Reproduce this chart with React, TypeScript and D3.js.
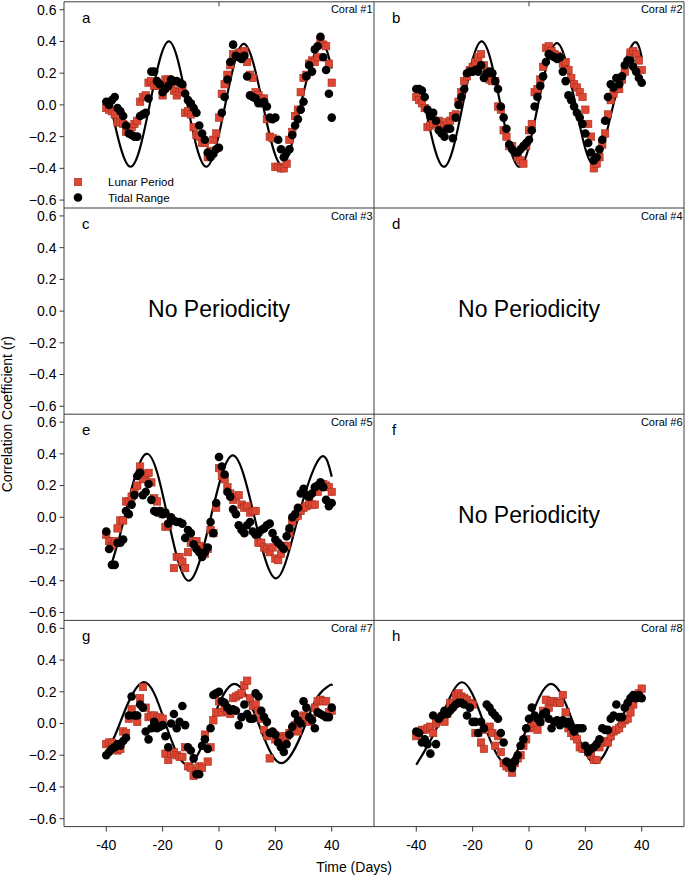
import React from 'react';
import * as d3 from 'd3';

const LAGS = d3.range(-40, 41);
const X_TICKS = [-40, -20, 0, 20, 40];
const Y_TICKS = [-0.6, -0.4, -0.2, 0, 0.2, 0.4, 0.6];

const lunarA = [
  -0.02, -0.03, -0.04, -0.06, -0.11, -0.11, -0.12, -0.17, -0.15, -0.14,
  -0.12, -0.10, 0.02, 0.05, 0.06, 0.14, 0.15, 0.12, 0.12, 0.13,
  0.06, 0.16, 0.16, 0.14, 0.09, 0.06, 0.08, 0.10, -0.05, -0.04,
  -0.06, -0.14, -0.19, -0.20, -0.24, -0.24, -0.33, -0.29, -0.22, -0.18,
  -0.08, 0.07, 0.13, 0.19, 0.25, 0.32, 0.31, 0.33, 0.33, 0.34,
  0.27, 0.19, 0.17, 0.08, 0.06, 0.04, 0.04, -0.09, -0.20, -0.21,
  -0.39, -0.39, -0.40, -0.40, -0.37, -0.22, -0.17, -0.07, -0.03, 0.08,
  0.17, 0.19, 0.26, 0.28, 0.27, 0.30, 0.40, 0.38, 0.37, 0.26,
  0.14,
];
const tidalA = [
  0.02, 0.0, 0.03, 0.05, -0.02, -0.04, -0.07, -0.13, -0.18, -0.19,
  -0.20, -0.20, -0.07, -0.06, -0.05, 0.04, 0.21, 0.21, 0.15, 0.13,
  0.08, 0.10, 0.12, 0.16, 0.15, 0.15, 0.14, 0.13, 0.07, 0.03,
  0.01, -0.02, -0.05, -0.13, -0.18, -0.22, -0.30, -0.33, -0.31, -0.28,
  -0.27, -0.05, 0.05, 0.16, 0.27, 0.38, 0.31, 0.30, 0.29, 0.31,
  0.18, 0.06, 0.05, 0.04, 0.01, 0.01, 0.02, -0.01, -0.08, -0.09,
  -0.08, -0.22, -0.28, -0.33, -0.30, -0.28, -0.19, -0.13, -0.09, -0.03,
  0.02, 0.18, 0.25, 0.21, 0.35, 0.37, 0.43, 0.30, 0.22, 0.07,
  -0.08,
];
const fitA: [number, number][] = [
  [-38.5, 0.0], [-31.4, -0.39], [-24.6, 0.0], [-17.8, 0.4], [-11.2, 0.0], [-4.5, -0.39],
  [2.2, 0.0], [8.8, 0.385], [15.6, 0.0], [22.4, -0.38], [29.0, 0.0], [35.6, 0.38], [40, 0.23],
];

const lunarB = [
  0.05, 0.03, 0.01, -0.02, -0.14, -0.13, -0.12, -0.11, -0.10, -0.13,
  -0.14, -0.11, -0.10, -0.07, -0.06, 0.02, 0.08, 0.15, 0.18, 0.22,
  0.24, 0.27, 0.30, 0.32, 0.25, 0.21, 0.16, 0.15, 0.15, -0.01,
  -0.03, -0.16, -0.20, -0.26, -0.26, -0.30, -0.33, -0.35, -0.37, -0.26,
  -0.16, -0.12, 0.08, 0.10, 0.16, 0.24, 0.36, 0.37, 0.34, 0.32,
  0.31, 0.30, 0.26, 0.27, 0.22, 0.17, 0.13, 0.11, 0.08, 0.05,
  -0.03, -0.12, -0.20, -0.40, -0.37, -0.33, -0.25, -0.18, -0.06, 0.03,
  0.07, 0.10, 0.10, 0.16, 0.21, 0.27, 0.33, 0.34, 0.32, 0.28,
  0.22,
];
const tidalB = [
  0.10, 0.10, 0.09, 0.05, -0.03, -0.07, -0.05, -0.10, -0.16, -0.18,
  -0.20, -0.15, -0.15, -0.21, -0.08, 0.0, 0.05, 0.10, 0.20, 0.21,
  0.21, 0.22, 0.21, 0.25, 0.17, 0.20, 0.21, 0.20, 0.15, 0.10,
  -0.01, -0.08, -0.15, -0.25, -0.28, -0.30, -0.30, -0.28, -0.26, -0.24,
  -0.22, -0.16, -0.01, 0.05, 0.12, 0.18, 0.27, 0.32, 0.31, 0.30,
  0.29, 0.30, 0.21, 0.15, 0.06, 0.03, -0.01, -0.05, -0.08, -0.12,
  -0.18, -0.24, -0.30, -0.35, -0.33, -0.28, -0.22, -0.10, 0.05, 0.13,
  0.11, 0.17, 0.13, 0.18, 0.25, 0.28, 0.28, 0.24, 0.21, 0.17,
  0.14,
];
const fitB: [number, number][] = [
  [-37.0, 0.0], [-30.2, -0.39], [-23.5, 0.0], [-16.8, 0.4], [-10.1, 0.0], [-3.4, -0.39],
  [3.2, 0.0], [9.9, 0.39], [16.5, 0.0], [23.1, -0.38], [29.9, 0.0], [36.7, 0.38], [40, 0.3],
];

const lunarE = [
  -0.11, -0.15, -0.18, -0.15, -0.07, -0.02, -0.02, 0.10, 0.10, 0.13,
  0.16, 0.20, 0.32, 0.24, 0.27, 0.28, 0.22, 0.12, 0.10, 0.04,
  0.02, -0.06, -0.05, -0.02, -0.32, -0.25, -0.25, -0.28, -0.32, -0.22,
  -0.16, -0.15, -0.15, -0.18, -0.21, -0.23, -0.20, -0.08, -0.10, 0.06,
  0.31, 0.26, 0.24, 0.19, 0.15, 0.11, 0.13, 0.14, 0.08, 0.06,
  0.07, 0.03, 0.04, 0.04, -0.16, -0.16, -0.19, -0.20, -0.22, -0.19,
  -0.26, -0.27, -0.23, -0.18, -0.18, -0.10, -0.03, 0.0, 0.01, 0.04,
  0.06, 0.07, 0.09, 0.08, 0.08, 0.16, 0.20, 0.21, 0.20, 0.19,
  0.16,
];
const tidalE = [
  -0.09, -0.20, -0.30, -0.30, -0.16, -0.16, -0.14, 0.04, 0.02, 0.08,
  0.14, 0.26, 0.28, 0.14, 0.16, 0.21, 0.11, 0.04, 0.03, 0.04,
  0.02, 0.03, -0.04, 0.0, -0.02, -0.03, -0.03, -0.04, -0.13, -0.08,
  -0.10, -0.17, -0.20, -0.22, -0.25, -0.22, -0.19, -0.03, -0.10, 0.09,
  0.38, 0.32, 0.27, 0.16, 0.13, 0.05, 0.02, -0.05, -0.08, -0.10,
  -0.05, -0.03, -0.09, -0.11, -0.10, -0.08, -0.07, -0.05, -0.04, -0.10,
  -0.14, -0.16, -0.18, -0.20, -0.12, -0.07, 0.0, 0.02, 0.06, 0.15,
  0.18, 0.14, 0.13, 0.15, 0.19, 0.20, 0.22, 0.19, 0.11, 0.07,
  0.09,
];
const fitE: [number, number][] = [
  [-38.2, -0.3], [-33.5, 0.0], [-25.8, 0.4], [-18.2, 0.0], [-10.7, -0.4], [-2.9, 0.0],
  [4.9, 0.39], [12.6, 0.0], [20.3, -0.385], [28.1, 0.0], [35.9, 0.375], [40, 0.255],
];

const lunarG = [
  -0.13, -0.12, -0.12, -0.15, -0.17, -0.16, -0.05, -0.06, 0.03, 0.09,
  0.05, 0.01, 0.16, 0.23, 0.10, 0.04, 0.05, 0.05, 0.03, 0.04,
  0.03, -0.19, -0.23, -0.19, -0.18, -0.20, -0.21, -0.21, -0.15, -0.27,
  -0.28, -0.33, -0.30, -0.27, -0.28, -0.07, -0.24, -0.15, 0.02, 0.07,
  0.14, 0.07, 0.10, 0.08, 0.06, 0.16, 0.17, 0.18, 0.19, 0.24,
  0.27, 0.16, 0.11, 0.12, 0.08, 0.03, -0.04, -0.08, -0.22, -0.06,
  -0.10, -0.11, -0.08, -0.10, -0.08, -0.06, -0.04, -0.01, -0.05, 0.01,
  0.05, 0.04, 0.01, 0.03, 0.10, 0.14, 0.15, 0.14, 0.14, 0.07,
  0.08,
];
const tidalG = [
  -0.20, -0.18, -0.16, -0.15, -0.13, -0.14, -0.11, -0.09, 0.05, 0.17,
  0.05, 0.05, 0.12, 0.10, -0.05, -0.10, -0.03, 0.01, -0.03, -0.02,
  -0.01, -0.08, -0.15, 0.0, 0.06, -0.03, 0.01, 0.11, -0.01, -0.15,
  -0.17, -0.22, -0.32, -0.32, -0.14, -0.10, -0.16, -0.03, 0.18, 0.19,
  0.20, 0.14, 0.13, 0.10, 0.08, 0.09, 0.08, -0.01, 0.04, 0.12,
  0.06, 0.03, 0.03, 0.19, 0.17, 0.08, 0.04, 0.01, -0.06, -0.05,
  -0.07, -0.12, -0.15, -0.18, -0.13, -0.07, -0.02, 0.06, 0.02, 0.0,
  0.14, 0.10, 0.04, 0.02, -0.03, 0.07, 0.06, 0.05, 0.04, 0.04,
  0.10,
];
const fitG: [number, number][] = [
  [-37.6, -0.1], [-35.2, 0.0], [-27.0, 0.26], [-19.0, 0.0], [-11.1, -0.26], [-2.8, 0.0],
  [5.5, 0.25], [14.0, 0.0], [22.4, -0.25], [30.8, 0.0], [35.0, 0.17], [39.2, 0.24], [40, 0.238],
];

const lunarH = [
  -0.08, -0.06, -0.04, -0.04, -0.03, -0.02, -0.06, 0.0, 0.02, 0.04,
  0.01, 0.06, 0.13, 0.13, 0.18, 0.19, 0.17, 0.16, 0.15, 0.13,
  0.12, -0.06, -0.06, -0.12, -0.16, -0.04, -0.02, -0.06, -0.14, -0.08,
  -0.18, -0.25, -0.27, -0.28, -0.31, -0.25, -0.22, -0.20, -0.14, -0.10,
  -0.03, -0.02, 0.0, -0.04, 0.01, 0.08, 0.15, 0.10, 0.14, 0.14,
  0.13, 0.13, 0.18, 0.07, -0.03, -0.06, -0.08, -0.10, -0.15, -0.16,
  -0.16, -0.18, -0.20, -0.23, -0.23, -0.15, -0.12, -0.11, -0.12, -0.08,
  -0.05, -0.04, -0.03, 0.0, 0.02, 0.03, 0.07, 0.12, 0.16, 0.19,
  0.22,
];
const tidalH = [
  -0.05, -0.06, -0.12, -0.10, -0.13, -0.19, 0.05, -0.13, 0.03, 0.05,
  0.08, 0.06, 0.08, 0.10, 0.12, 0.13, 0.13, 0.12, 0.05, 0.10,
  0.01, 0.01, -0.06, 0.01, -0.03, 0.12, 0.10, 0.07, 0.05, 0.03,
  -0.06, -0.12, -0.24, -0.25, -0.28, -0.24, -0.20, -0.14, -0.10, -0.03,
  0.03, 0.10, 0.05, 0.03, 0.01, 0.06, 0.07, 0.03, -0.03, 0.01,
  0.02, -0.01, 0.02, 0.0, 0.01, -0.02, -0.05, -0.03, -0.03, -0.03,
  -0.14, -0.18, -0.16, -0.15, -0.13, -0.10, -0.03, -0.04, -0.04, 0.03,
  0.05, 0.12, 0.04, 0.04, 0.10, 0.13, 0.16, 0.18, 0.16, 0.18,
  0.16,
];
const fitH: [number, number][] = [
  [-40, -0.26], [-32.0, 0.0], [-23.9, 0.26], [-16.0, 0.0], [-8.1, -0.25], [-0.15, 0.0],
  [7.8, 0.25], [15.75, 0.0], [23.7, -0.25], [31.8, 0.0], [40, 0.24],
];

const LETTERS = ['a', 'b', 'c', 'd', 'e', 'f', 'g', 'h'];
const CORALS = ['Coral #1', 'Coral #2', 'Coral #3', 'Coral #4', 'Coral #5', 'Coral #6', 'Coral #7', 'Coral #8'];
const LUNAR = [lunarA, lunarB, null, null, lunarE, null, lunarG, lunarH];
const TIDAL = [tidalA, tidalB, null, null, tidalE, null, tidalG, tidalH];
const FITS = [fitA, fitB, null, null, fitE, null, fitG, fitH];
const NO_PERIOD_TEXT = 'No Periodicity';
const LEGEND = ['Lunar Period', 'Tidal Range'];

const W = 685;
const H = 877;
const LEFT = 64;
const COL_W = 310;
const TOP = 1.8;
const ROW_H = 206.2;
const FONT = "'Liberation Sans', Arial, Helvetica, sans-serif";
const RED = '#dc4632';
const RED_EDGE = '#a52d1d';
const FRAME = '#3c3c3c';
const SQ = 7.4;
const CR = 4.3;

export default function App() {
  const panels = LETTERS.map((letter, i) => {
    const col = i % 2;
    const row = Math.floor(i / 2);
    const x0 = LEFT + col * COL_W;
    const y0 = TOP + row * ROW_H;
    const x = d3.scaleLinear().domain([-55, 55]).range([x0, x0 + COL_W]);
    const y = d3.scaleLinear().domain([-0.65, 0.65]).range([y0 + ROW_H, y0]);
    const lunar = LUNAR[i];
    const tidal = TIDAL[i];
    const fit = FITS[i];
    const line = d3
      .line<[number, number]>()
      .x((d) => x(d[0]))
      .y((d) => y(d[1]))
      .curve(d3.curveNatural);
    return (
      <g key={letter}>
        {fit && <path d={line(fit) || ''} fill="none" stroke="#000" strokeWidth={2.2} />}
        {lunar &&
          lunar.map((v, k) => (
            <rect
              key={'l' + k}
              x={x(LAGS[k]) - SQ / 2}
              y={y(v) - SQ / 2}
              width={SQ}
              height={SQ}
              fill={RED}
              stroke={RED_EDGE}
              strokeWidth={0.6}
            />
          ))}
        {tidal &&
          tidal.map((v, k) => <circle key={'t' + k} cx={x(LAGS[k])} cy={y(v)} r={CR} fill="#000" />)}
        {!fit && (
          <text
            x={x(0)}
            y={y(0) + 6}
            textAnchor="middle"
            fontSize={23}
            fontFamily={FONT}
            fill="#000"
          >
            {NO_PERIOD_TEXT}
          </text>
        )}
        <text x={x0 + 18} y={y0 + 21} fontSize={15} fontFamily={FONT} fill="#000">
          {letter}
        </text>
        <text x={x0 + COL_W - 1.5} y={y0 + 11.5} textAnchor="end" fontSize={11} fontFamily={FONT} fill="#000">
          {CORALS[i]}
        </text>
        {row === 0 && <line x1={x(0)} x2={x(0)} y1={y0} y2={y0 + 4.5} stroke={FRAME} strokeWidth={1} />}
        {col === 0 &&
          Y_TICKS.map((t) => (
            <g key={'yt' + t}>
              <line x1={x0 - 4.5} x2={x0} y1={y(t)} y2={y(t)} stroke={FRAME} strokeWidth={1} />
              <text
                x={x0 - 7.5}
                y={y(t)}
                dy="0.35em"
                textAnchor="end"
                fontSize={14}
                fontFamily={FONT}
                fill="#000"
              >
                {t === 0 ? '0.0' : d3.format('.1f')(t)}
              </text>
            </g>
          ))}
        {row === 3 &&
          X_TICKS.map((t) => (
            <g key={'xt' + t}>
              <line x1={x(t)} x2={x(t)} y1={y0 + ROW_H} y2={y0 + ROW_H + 5} stroke={FRAME} strokeWidth={1} />
              <text x={x(t)} y={y0 + ROW_H + 23.5} textAnchor="middle" fontSize={14} fontFamily={FONT} fill="#000">
                {t}
              </text>
            </g>
          ))}
        {i === 0 && (
          <g>
            <rect x={78 - SQ / 2} y={182 - SQ / 2} width={SQ} height={SQ} fill={RED} stroke={RED_EDGE} strokeWidth={0.6} />
            <circle cx={78} cy={197.5} r={CR} fill="#000" />
            <text x={108} y={186} fontSize={11.5} fontFamily={FONT} fill="#000">
              {LEGEND[0]}
            </text>
            <text x={108} y={201.5} fontSize={11.5} fontFamily={FONT} fill="#000">
              {LEGEND[1]}
            </text>
          </g>
        )}
      </g>
    );
  });

  const rowYs = d3.range(0, 5).map((r) => TOP + r * ROW_H);
  const colXs = [LEFT, LEFT + COL_W, LEFT + 2 * COL_W];

  return (
    <svg
      width={W}
      height={H}
      style={{ position: 'absolute', left: 0, top: 0, background: '#fff' }}
      xmlns="http://www.w3.org/2000/svg"
    >
      <rect x={0} y={0} width={W} height={H} fill="#fff" />
      {panels}
      {rowYs.map((yy, k) => (
        <line key={'h' + k} x1={LEFT} x2={LEFT + 2 * COL_W} y1={yy} y2={yy} stroke={FRAME} strokeWidth={1} />
      ))}
      {colXs.map((xx, k) => (
        <line key={'v' + k} x1={xx} x2={xx} y1={TOP} y2={TOP + 4 * ROW_H} stroke={FRAME} strokeWidth={1} />
      ))}
      <text x={354} y={872} textAnchor="middle" fontSize={14} fontFamily={FONT} fill="#000">
        Time (Days)
      </text>
      <text
        transform={`translate(11.5, ${TOP + 2 * ROW_H}) rotate(-90)`}
        textAnchor="middle"
        fontSize={14}
        fontFamily={FONT}
        fill="#000"
      >
        Correlation Coefficient (r)
      </text>
    </svg>
  );
}
